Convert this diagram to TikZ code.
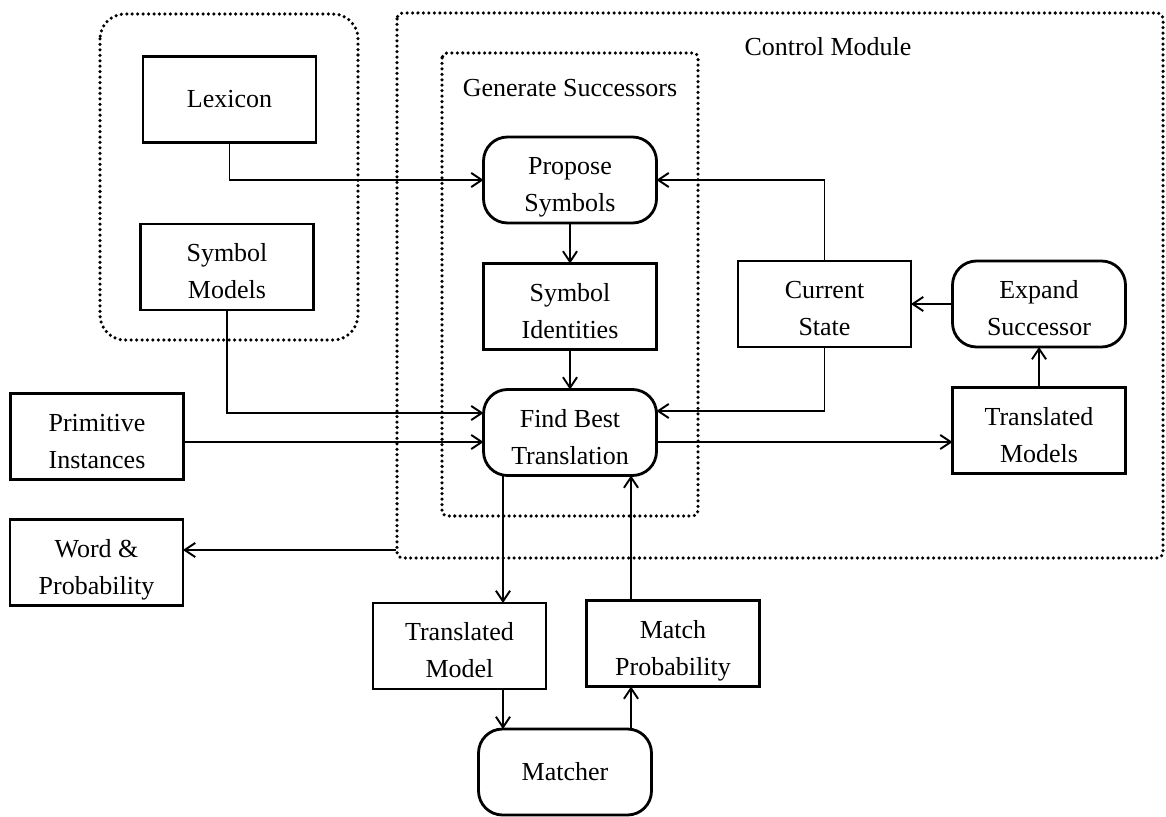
\documentclass[tikz,border=0pt]{standalone}
\usepackage{fontspec}
\setmainfont{Liberation Serif}
\usetikzlibrary{arrows.meta,calc}
\begin{document}
\begin{tikzpicture}[x=0.02cm,y=-0.02cm,
  txt/.style={font=\fontsize{14.8}{21}\selectfont},
  box/.style={txt, draw, line width=1.6pt, minimum width=3.46cm, minimum height=1.72cm,
              align=center, inner sep=2pt, outer sep=0pt},
  box2/.style={box, text height=36.3pt, text depth=0pt},
  pill/.style={box, rounded corners=0.48cm},
  pill2/.style={box2, rounded corners=0.48cm},
  link/.style={line width=1.1pt},
  conn/.style={link, -{Straight Barb[length=6pt,width=8pt,line width=1.1pt]}},
  grp/.style={line width=2pt, dash pattern=on 0pt off 3.1pt, line cap=round}]
\useasboundingbox (0,0) rectangle (1166,817);

% dotted containers
\draw[grp, rounded corners=0.5cm] (100,14) rectangle (358,340);
\draw[grp, rounded corners=0.12cm] (397,13) rectangle (1163,558);
\draw[grp, rounded corners=0.1cm] (442,53) rectangle (698,516);
\node[txt] (cmlbl) at (828,47) {Control Module};
\node[txt] (gslbl) at (570,88) {Generate Successors};

% nodes
\node[box]   (lex)  at (229.5,99.5) {Lexicon};
\node[box2]  (symm) at (227,267)    {Symbol\\Models};
\node[pill2] (prop) at (570,180)    {Propose\\Symbols};
\node[box2]  (sid)  at (570,306.5)  {Symbol\\Identities};
\node[pill2] (fbt)  at (570,432.5)  {Find Best\\Translation};
\node[box2]  (cur)  at (824.5,304)  {Current\\State};
\node[pill2] (exp)  at (1039,304)   {Expand\\Successor};
\node[box2]  (tms)  at (1039,430.5) {Translated\\Models};
\node[box2]  (prim) at (97,436.5)   {Primitive\\Instances};
\node[box2]  (wp)   at (96.5,562.5) {Word \&\\Probability};
\node[box2]  (tm)   at (459.5,646)  {Translated\\Model};
\node[box2]  (mp)   at (673,643.5)  {Match\\Probability};
\node[pill]  (mat)  at (565,772)    {Matcher};

% helper coordinates
\coordinate (ysm) at (0,413);
\coordinate (ypi) at (0,442);
\coordinate (ycs) at (0,411);
\coordinate (ytm) at (0,442);
\coordinate (xl)  at (503,0);
\coordinate (xr)  at (631,0);
\coordinate (cmedge) at (396,550);

% connectors
\draw[conn] (lex.south) |- (prop.west);
\draw[conn] (cur.north) |- (prop.east);
\draw[conn] (prop.south) -- (sid.north);
\draw[conn] (sid.south) -- (fbt.north);
\draw[conn] (symm.south) |- (fbt.west |- ysm);
\draw[conn] (prim.east |- ypi) -- (fbt.west |- ypi);
\draw[conn] (cur.south) |- (fbt.east |- ycs);
\draw[conn] (fbt.east |- ytm) -- (tms.west |- ytm);
\draw[conn] (exp.west) -- (cur.east);
\draw[conn] (tms.north) -- (exp.south);
\draw[conn] (fbt.south -| xl) -- (tm.north -| xl);
\draw[conn] (mp.north -| xr) -- (fbt.south -| xr);
\draw[conn] (tm.south -| xl) -- (mat.north -| xl);
\draw[conn] (mat.north -| xr) -- (mp.south -| xr);
\draw[conn] (cmedge) -- (wp.east |- cmedge);
\end{tikzpicture}
\end{document}
